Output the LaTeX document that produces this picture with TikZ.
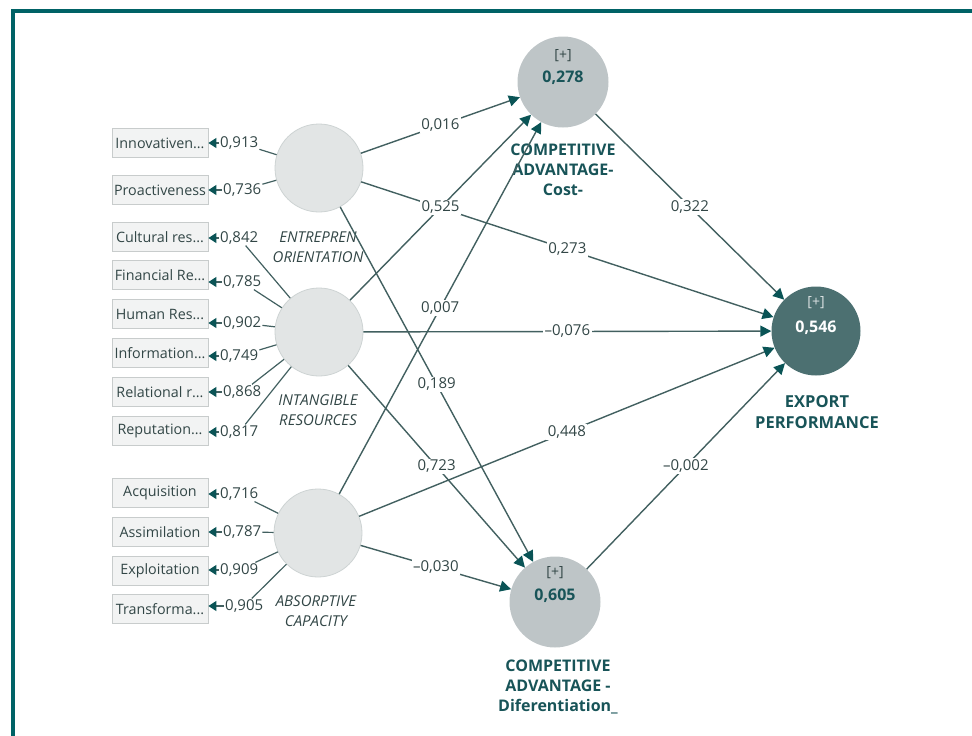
\documentclass[tikz,border=0pt]{standalone}
\usepackage{fontspec}
\setmainfont{Open Sans}
\usetikzlibrary{arrows.meta}
\definecolor{framecol}{RGB}{0,98,102}
\definecolor{linecol}{RGB}{66,96,96}
\definecolor{tipcol}{RGB}{10,84,86}
\definecolor{numcol}{RGB}{50,70,70}
\definecolor{titlecol}{RGB}{24,84,88}
\definecolor{exofill}{RGB}{226,229,229}
\definecolor{exodraw}{RGB}{205,211,211}
\definecolor{endofill}{RGB}{190,197,199}
\definecolor{epfill}{RGB}{76,112,113}
\definecolor{boxfill}{RGB}{242,243,243}
\definecolor{boxdraw}{RGB}{200,204,204}
\begin{document}
\begin{tikzpicture}[x=1pt,y=-1pt,
  ind/.style={draw=boxdraw, fill=boxfill, line width=0.8pt, minimum width=96pt, minimum height=29pt, inner sep=0pt, text=numcol, font=\fontsize{14.3}{16}\selectfont},
  ldg/.style={inner sep=1pt, text=numcol, font=\fontsize{15}{16}\selectfont},
  ldarr/.style={draw=linecol, line width=1.2pt, -{Triangle[length=8pt,width=10pt,color=tipcol]}},
  ldline/.style={draw=linecol, line width=1.2pt},
  exo/.style={circle, draw=exodraw, fill=exofill, line width=0.8pt, minimum size=88pt, inner sep=0pt},
  endo/.style={circle, fill=endofill, minimum size=91pt, inner sep=0pt},
  epstyle/.style={circle, fill=epfill, minimum size=89pt, inner sep=0pt},
  sp/.style={draw=linecol, line width=1.4pt, -{Triangle[length=11pt,width=11pt,color=tipcol]}},
  coef/.style={fill=white, inner sep=1.5pt, text=numcol, font=\fontsize{15}{16}\selectfont},
  latname/.style={align=center, text=numcol, font=\fontsize{15}{20}\itshape},
  title/.style={align=center, text=titlecol, font=\fontsize{16}{20}\bfseries},
  plus/.style={text=numcol, font=\fontsize{14}{15}\selectfont},
  rsq/.style={text=titlecol, font=\fontsize{16}{17}\bfseries}
]
\useasboundingbox (0,0) rectangle (972,736);
% frame
\draw[framecol, line width=3.8pt] (13,736) -- (13,11) -- (972,11);

% latent variables
\node[exo] (EO) at (319,168) {};
\node[exo] (IR) at (319,332) {};
\node[exo] (AC) at (318,533) {};
\node[endo] (Cost) at (563,82) {};
\node[endo] (Diff) at (555,602) {};
\node[epstyle] (EP) at (816,331) {};

% texts in endogenous circles
\node[plus] (costplus) at (563,56) {[+]};
\node[rsq] (costr) at (563,78) {0,278};
\node[plus] (diffplus) at (555,573) {[+]};
\node[rsq] (diffr) at (555,596) {0,605};
\node[plus, text=white!80!epfill] (epplus) at (816,303) {[+]};
\node[rsq, text=white] (epr) at (816,328) {0,546};

% latent names
\node[latname] (EOn) at (318,247) {ENTREPREN\\ORIENTATION};
\node[latname] (IRn) at (318,410) {INTANGIBLE\\RESOURCES};
\node[latname] (ACn) at (316,611) {ABSORPTIVE\\CAPACITY};
\node[title] (Costn) at (563,170) {COMPETITIVE\\ADVANTAGE-\\Cost-};
\node[title] (Diffn) at (558,687) {COMPETITIVE\\ADVANTAGE -\\Diferentiation\_};
\node[title, font=\fontsize{16.5}{21}\bfseries] (EPn) at (817,412) {EXPORT\\PERFORMANCE};

% indicators
\node[ind] (i1) at (160,143) {Innovativen...};
\node[ind] (i2) at (160,190) {Proactiveness};
\node[ind] (i3) at (160,237) {Cultural res...};
\node[ind] (i4) at (160,275) {Financial Re...};
\node[ind] (i5) at (160,314) {Human Res...};
\node[ind] (i6) at (160,353) {Information...};
\node[ind] (i7) at (160,392) {Relational r...};
\node[ind] (i8) at (160,431) {Reputation...};
\node[ind] (i9) at (160,493) {Acquisition};
\node[ind] (i10) at (160,532) {Assimilation};
\node[ind] (i11) at (160,571) {Exploitation};
\node[ind] (i12) at (160,609) {Transforma...};

% loading labels
\node[ldg, anchor=west] (l1) at (219,143) {0,913};
\node[ldg, anchor=west] (l2) at (222,190) {0,736};
\node[ldg, anchor=west] (l3) at (219,238) {0,842};
\node[ldg, anchor=west] (l4) at (222,282) {0,785};
\node[ldg, anchor=west] (l5) at (222,323) {0,902};
\node[ldg, anchor=west] (l6) at (219,356) {0,749};
\node[ldg, anchor=west] (l7) at (222,392) {0,868};
\node[ldg, anchor=west] (l8) at (219,432) {0,817};
\node[ldg, anchor=west] (l9) at (219,494) {0,716};
\node[ldg, anchor=west] (l10) at (222,532) {0,787};
\node[ldg, anchor=west] (l11) at (219,570) {0,909};
\node[ldg, anchor=west] (l12) at (224,606) {0,905};

% loading arrows to indicators
\foreach \k in {1,...,12}{
  \draw[ldarr] (l\k.west) -- (l\k.west -| i\k.east);
}
% loading lines from latents
\foreach \k in {1,2}{ \draw[ldline] (EO) -- (l\k); }
\foreach \k in {3,...,8}{ \draw[ldline] (IR) -- (l\k); }
\foreach \k in {9,...,12}{ \draw[ldline] (AC) -- (l\k); }

% structural paths
\draw[sp] (EO) -- node[coef] {0,016} (Cost);
\draw[sp] (EO) -- node[coef] {0,273} (EP);
\draw[sp] (AC) -- node[coef] {0,448} (EP);
\draw[sp] (IR) -- node[coef] {–0,076} (EP);
\draw[sp] (AC) -- node[coef] {0,007} (Cost);
\draw[sp] (IR) -- node[coef] {0,525} (Cost);
\draw[sp] (EO) -- node[coef] {0,189} (Diff);
\draw[sp] (IR) -- node[coef] {0,723} (Diff);
\draw[sp] (AC) -- node[coef] {–0,030} (Diff);
\draw[sp] (Cost) -- node[coef] {0,322} (EP);
\draw[sp] (Diff) -- node[coef] {–0,002} (EP);
\end{tikzpicture}
\end{document}
